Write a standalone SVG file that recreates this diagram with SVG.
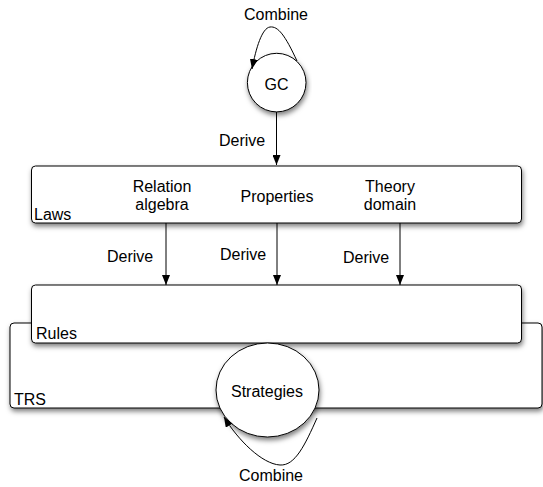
<svg xmlns="http://www.w3.org/2000/svg" width="543" height="487" viewBox="0 0 543 487">
<style>
text{font-family:"Liberation Sans",Arial,sans-serif;font-size:16px;fill:#000}
.c{text-anchor:middle}
.box{fill:#fff;stroke:#000;stroke-width:1;filter:url(#sh)}
.edge{fill:none;stroke:#000;stroke-width:1;marker-end:url(#ah)}
</style>
<defs>
<filter id="sh" x="-10%" y="-20%" width="120%" height="150%">
<feDropShadow dx="1" dy="3" stdDeviation="2.5" flood-color="#000" flood-opacity="0.5"/>
</filter>
<marker id="ah" markerUnits="userSpaceOnUse" markerWidth="10" markerHeight="8" refX="10" refY="4" orient="auto">
<path d="M0,0 L10,4 L0,8 z" fill="#000"/>
</marker>
</defs>
<g id="TRS">
<rect class="box" x="10" y="323" width="532" height="85" rx="4"/>
<text x="14" y="405">TRS</text>
</g>
<g id="Rules">
<rect class="box" x="31.5" y="285" width="490" height="58" rx="4"/>
<text x="36" y="339">Rules</text>
</g>
<g id="Strategies">
<ellipse class="box" cx="267.5" cy="390" rx="51.5" ry="47"/>
<text class="c" x="267" y="397">Strategies</text>
</g>
<g id="Laws">
<rect class="box" x="31.5" y="166" width="490" height="57" rx="4"/>
<text x="34" y="220">Laws</text>
<text class="c" x="162" y="192">Relation</text>
<text class="c" x="162" y="210">algebra</text>
<text class="c" x="277" y="202">Properties</text>
<text class="c" x="390" y="192">Theory</text>
<text class="c" x="390" y="210">domain</text>
</g>
<g id="GC">
<circle class="box" cx="276.7" cy="82.6" r="29.3"/>
<text class="c" x="276.5" y="90">GC</text>
</g>
<g id="connectors">
<path class="edge" d="M297,61 C285,35 278,26 270,27 C262,28 256,48 252,69"/>
<text class="c" x="276" y="20">Combine</text>
<path class="edge" d="M276.5,112 L276.5,165"/>
<text x="219" y="146">Derive</text>
<path class="edge" d="M166,223 L166,285"/>
<text x="107" y="262">Derive</text>
<path class="edge" d="M277,223 L277,285"/>
<text x="220" y="260">Derive</text>
<path class="edge" d="M400,223 L400,285"/>
<text x="343" y="263">Derive</text>
<path class="edge" d="M317,418 C305,445 295,466 280,465 C262,464 238,440 224,417"/>
<text class="c" x="271" y="481">Combine</text>
</g>
</svg>
